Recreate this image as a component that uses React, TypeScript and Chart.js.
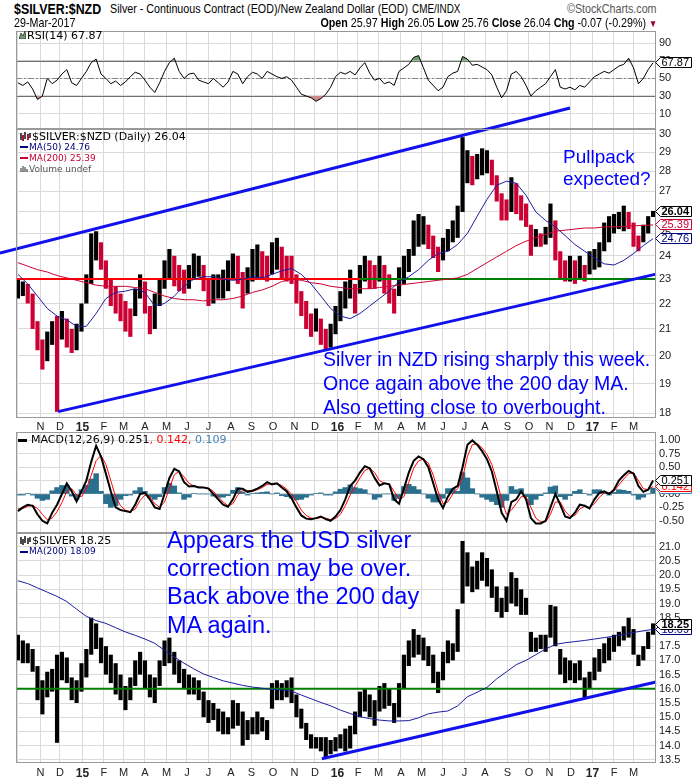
import React, { useEffect, useRef } from "react";
import { Chart, registerables } from "chart.js";

Chart.register(...registerables);

// ---------------- data ----------------
const startDate = "2014-09-29"; // Monday of first week shown
const tradingDays = 655; // weekdays on the axis
const daysPerWeek = 5;
const weeksPerMaStep = 2;

const quote = { date: "29-Mar-2017", open: 25.97, high: 26.05, low: 25.76, close: 26.04, chg: -0.07, chgPct: -0.29 };
const usdLastClose = 18.25;
const monthLetters = ["J", "F", "M", "A", "M", "J", "J", "A", "S", "O", "N", "D"];

// weekly high / low of $SILVER:$NZD
const nzdLow = [
  22.2, 22.3, 22.0, 21.0, 20.2, 19.5, 19.8, 20.4, 18.05, 20.6,
  20.3, 20.1, 20.2, 20.9, 22.0, 22.8, 23.8, 23.4, 22.6, 21.9,
  21.6, 21.3, 20.9, 20.7, 21.5, 22.2, 21.6, 20.8, 21.0, 21.9,
  22.6, 23.0, 22.7, 22.5, 22.4, 22.6, 23.0, 23.1, 22.5, 21.9,
  22.0, 22.2, 22.2, 22.5, 23.0, 22.8, 21.8, 22.4, 22.9, 23.0,
  23.0, 22.9, 23.2, 23.4, 23.0, 22.9, 22.8, 22.0, 21.5, 21.0,
  20.7, 20.9, 20.4, 20.2, 20.3, 20.8, 21.3, 21.8, 22.2, 21.6,
  22.4, 22.9, 22.6, 22.6, 22.9, 22.4, 22.0, 21.6, 22.3, 22.8,
  23.3, 24.0, 24.4, 24.5, 24.3, 23.9, 23.3, 23.8, 24.2, 24.6,
  24.8, 26.0, 27.4, 27.3, 27.6, 27.8, 27.9, 27.3, 26.5, 25.6,
  25.6, 26.0, 25.9, 25.6, 25.3, 24.0, 24.4, 24.4, 24.5, 24.8,
  23.8, 23.0, 22.9, 22.9, 22.8, 23.0, 22.9, 23.2, 23.4, 23.5,
  24.2, 24.6, 25.0, 25.2, 25.1, 25.2, 24.4, 24.2, 24.6, 25.0,
  25.76,
];
const nzdHigh = [
  23.0, 22.9, 22.8, 22.4, 21.3, 20.6, 20.9, 21.3, 21.5, 21.7,
  21.4, 21.0, 21.2, 22.0, 23.2, 25.0, 25.1, 24.6, 23.8, 23.0,
  22.7, 22.4, 22.1, 21.8, 22.6, 23.2, 22.9, 21.9, 22.4, 23.0,
  23.8, 24.3, 24.0, 23.6, 23.4, 23.6, 24.1, 24.0, 23.6, 23.0,
  23.2, 23.2, 23.4, 23.8, 24.1, 24.0, 23.3, 23.5, 24.3, 24.5,
  24.2, 24.0, 24.6, 24.8, 24.4, 24.0, 24.0, 23.2, 22.5, 22.1,
  21.6, 21.8, 21.4, 21.0, 21.2, 21.9, 22.5, 22.9, 23.4, 22.8,
  23.6, 24.0, 23.8, 23.6, 24.0, 23.6, 23.2, 22.6, 23.5, 24.0,
  24.3, 25.6, 25.9, 25.8, 25.4, 24.9, 24.4, 24.8, 25.2, 25.6,
  26.3, 29.8, 29.1, 28.8, 28.9, 29.2, 29.1, 28.6, 27.8, 26.9,
  26.6, 27.7, 27.4, 26.8, 26.4, 25.4, 25.2, 25.0, 25.3, 26.4,
  25.6, 24.2, 23.8, 24.0, 23.8, 24.0, 23.6, 24.2, 24.3, 24.6,
  25.5, 25.8, 25.9, 26.0, 26.3, 26.0, 25.5, 24.9, 25.4, 25.8,
  26.05,
];
// moving averages, one value every two weeks
const nzdMa50 = [
  23.2, 22.8, 22.3, 21.8, 21.5, 21.35, 21.1, 21.1, 21.6, 22.2,
  22.45, 22.5, 22.6, 22.45, 21.9, 22.0, 22.3, 22.7, 23.0, 23.1,
  23.1, 23.0, 22.95, 23.0, 23.1, 23.05, 23.2, 23.35, 23.45, 23.2,
  22.8, 22.3, 21.8, 21.5, 21.4, 21.6, 21.9, 22.2, 22.5, 22.9,
  23.1, 23.4, 23.8, 24.1, 24.2, 24.5, 25.0, 25.8, 26.6, 27.3,
  27.5, 27.4, 26.8, 26.0, 25.6, 25.3, 24.9, 24.5, 24.2, 23.9,
  23.65, 23.6, 23.8, 24.1, 24.45, 24.76,
];
const nzdMa200 = [
  23.7, 23.55, 23.4, 23.3, 23.15, 23.05, 22.95, 22.85, 22.75, 22.7,
  22.7, 22.7, 22.65, 22.6, 22.45, 22.3, 22.2, 22.15, 22.15, 22.1,
  22.15, 22.15, 22.2, 22.3, 22.45, 22.55, 22.7, 22.9, 23.0, 22.95,
  22.85, 22.8, 22.7, 22.65, 22.6, 22.6, 22.6, 22.65, 22.7, 22.75,
  22.8, 22.85, 22.9, 22.95, 23.0, 23.05, 23.2, 23.45, 23.7, 23.95,
  24.2, 24.45, 24.65, 24.8, 24.95, 25.1, 25.15, 25.2, 25.25, 25.25,
  25.3, 25.3, 25.32, 25.35, 25.37, 25.39,
];
const rsi14 = [
  45, 42, 46, 38, 26, 30, 50, 44, 48, 55,
  60, 45, 42, 50, 58, 68, 72, 55, 50, 44,
  47, 42, 46, 52, 57, 55, 48, 40, 34, 45,
  58, 68, 73, 58, 50, 55, 56, 48, 46, 44,
  50, 45, 40, 46, 58, 55, 44, 52, 57, 55,
  50, 58, 55, 52, 50, 52, 48, 40, 32, 30,
  28, 24, 27, 32, 40, 52, 57, 55, 58, 54,
  62, 68, 56, 48, 50, 44, 46, 42, 58, 62,
  66, 74, 76, 62, 48, 42, 36, 40, 52, 56,
  58, 75, 72, 65, 66, 63, 60, 54, 40, 28,
  36, 55, 58, 52, 42, 30, 36, 40, 44, 52,
  60, 40, 38, 40, 37, 42, 40, 46, 52, 55,
  58, 56, 60, 64, 66, 73, 62, 44, 50, 60,
  67.87,
];
const macdLine = [
  -0.32, -0.25, -0.2, -0.22, -0.38, -0.5, -0.55, -0.35, -0.2, 0.0,
  0.2, 0.05, -0.14, 0.05, 0.25, 0.6, 0.9, 0.7, 0.38, 0.05,
  -0.25, -0.3, -0.32, -0.34, -0.2, 0.0, 0.02, -0.1, -0.25, -0.28,
  0.0, 0.3, 0.47, 0.42, 0.22, 0.14, 0.15, 0.12, 0.12, 0.1,
  0.0, -0.1, -0.2, -0.24, -0.1, 0.1, 0.1, 0.04, 0.06, 0.1,
  0.15, 0.22, 0.18, 0.2, 0.12, 0.05, -0.08, -0.25, -0.4, -0.46,
  -0.47, -0.45, -0.42, -0.47, -0.5, -0.42, -0.3, -0.1, 0.15, 0.25,
  0.4, 0.52, 0.48, 0.3, 0.16, 0.2, 0.18, -0.1, -0.18, 0.1,
  0.4, 0.62, 0.7, 0.65, 0.5, 0.2, -0.1, -0.26, -0.05, 0.1,
  0.15, 0.5, 0.92, 1.0, 0.92, 0.8, 0.65, 0.42, 0.05, -0.35,
  -0.5, -0.15, -0.1, 0.05, -0.1, -0.45, -0.55, -0.55, -0.5, -0.25,
  0.0, -0.2, -0.42, -0.45, -0.35, -0.2, -0.22, -0.27, -0.1, 0.02,
  0.05, 0.0, 0.08, 0.25, 0.35, 0.43, 0.38, 0.15, 0.04, 0.08,
  0.251,
];
const macdSignal = [
  -0.28, -0.27, -0.23, -0.21, -0.27, -0.38, -0.48, -0.45, -0.33, -0.16,
  0.05, 0.1, -0.02, -0.05, 0.1, 0.35, 0.62, 0.72, 0.55, 0.25,
  -0.05, -0.22, -0.3, -0.33, -0.28, -0.12, -0.02, -0.05, -0.18, -0.25,
  -0.15, 0.1, 0.36, 0.42, 0.32, 0.2, 0.15, 0.13, 0.12, 0.11,
  0.05, -0.05, -0.15, -0.22, -0.18, -0.02, 0.07, 0.06, 0.05, 0.08,
  0.12, 0.18, 0.19, 0.19, 0.16, 0.09, 0.0, -0.14, -0.3, -0.4,
  -0.45, -0.46, -0.44, -0.45, -0.48, -0.46, -0.38, -0.22, -0.02, 0.15,
  0.3, 0.44, 0.48, 0.4, 0.25, 0.2, 0.19, 0.05, -0.1, -0.05,
  0.22, 0.48, 0.62, 0.65, 0.58, 0.35, 0.05, -0.18, -0.15, 0.0,
  0.1, 0.3, 0.7, 0.92, 0.94, 0.86, 0.74, 0.55, 0.25, -0.1,
  -0.38, -0.3, -0.18, -0.05, -0.05, -0.25, -0.45, -0.52, -0.52, -0.38,
  -0.15, -0.15, -0.32, -0.42, -0.4, -0.28, -0.23, -0.25, -0.18, -0.06,
  0.02, 0.02, 0.05, 0.17, 0.28, 0.38, 0.4, 0.25, 0.1, 0.08,
  0.142,
];
const macdHist = [
  -0.02, -0.02, 0.01, -0.02, -0.08, -0.12, -0.1, 0.06, 0.12, 0.16,
  0.15, -0.04, -0.1, 0.08, 0.16, 0.28, 0.38, 0.05, -0.18, -0.25,
  -0.22, -0.1, -0.03, -0.02, 0.06, 0.12, 0.05, -0.06, -0.1, -0.05,
  0.12, 0.2, 0.15, 0.02, -0.1, -0.06, 0.01, 0.0, 0.0, 0.0,
  -0.04, -0.06, -0.06, -0.03, 0.07, 0.12, 0.04, -0.02, 0.01, 0.02,
  0.03, 0.04, 0.0, 0.02, -0.03, -0.05, -0.08, -0.11, -0.1, -0.06,
  -0.02, 0.01, 0.02, -0.02, -0.02, 0.04, 0.09, 0.12, 0.17, 0.12,
  0.1, 0.08, 0.0, -0.1, -0.06, 0.0, 0.0, -0.12, -0.08, 0.14,
  0.18, 0.14, 0.08, 0.0, -0.08, -0.15, -0.15, -0.08, 0.1, 0.1,
  0.05, 0.4, 0.3, 0.1, 0.0, -0.06, -0.1, -0.14, -0.2, -0.25,
  -0.12, 0.14, 0.08, 0.1, -0.05, -0.2, -0.1, -0.03, 0.02, 0.13,
  0.15, -0.05, -0.1, -0.03, 0.05, 0.08, 0.01, -0.02, 0.08, 0.08,
  0.03, -0.02, 0.03, 0.08, 0.07, 0.05, -0.02, -0.1, -0.06, 0.0,
  0.109,
];
// weekly high / low of $SILVER (USD)
const usdLow = [
  17.0, 16.9, 16.9, 16.6, 15.6, 15.1, 15.7, 15.9, 14.1, 16.3,
  16.2, 15.6, 15.5, 15.9, 16.4, 17.2, 17.4, 16.9, 16.5, 16.2,
  15.8, 15.6, 15.25, 15.6, 16.1, 16.5, 16.0, 15.7, 15.5, 16.1,
  16.8, 16.9, 16.5, 16.2, 16.0, 15.8, 15.8, 15.6, 15.0, 14.8,
  14.9, 14.5, 14.4, 14.4, 14.6, 14.7, 14.0, 14.2, 14.4, 14.4,
  14.5, 14.2, 15.3, 15.6, 15.6, 15.7, 15.5, 15.0, 14.6, 14.2,
  13.9, 13.9, 13.8, 13.6, 13.7, 13.8, 13.9, 13.8, 13.9, 14.4,
  15.0, 15.2, 15.0, 14.7, 15.2, 15.3, 15.4, 14.8, 15.0, 16.0,
  16.8, 17.1, 17.2, 17.0, 16.8, 16.2, 15.85, 16.3, 16.9, 17.0,
  17.3, 19.0, 19.6, 19.4, 19.5, 19.8, 19.6, 19.2, 18.7, 18.5,
  18.7, 19.0, 18.9, 18.6, 18.6, 17.3, 17.3, 17.4, 17.3, 17.8,
  17.5, 16.5, 16.2, 16.3, 16.2, 16.3, 15.7, 16.0, 16.3, 16.6,
  16.9, 17.0, 17.3, 17.5, 17.7, 17.8, 17.2, 16.8, 17.0, 17.4,
  17.9,
];
const usdHigh = [
  17.9, 17.7, 17.6, 17.4, 16.8, 16.3, 16.6, 16.7, 17.2, 17.3,
  17.1, 16.4, 16.3, 16.9, 17.4, 18.5, 18.3, 17.8, 17.5, 17.2,
  16.9, 16.5, 16.1, 16.4, 17.0, 17.3, 17.0, 16.5, 16.4, 17.0,
  17.7, 17.8, 17.3, 17.0, 16.7, 16.5, 16.4, 16.3, 15.9, 15.6,
  15.5, 15.3, 15.2, 15.0, 15.6, 15.5, 15.2, 14.9, 15.0, 15.2,
  15.0, 14.9, 16.2, 16.3, 16.2, 16.3, 16.4, 15.8, 15.3, 14.8,
  14.4, 14.3, 14.3, 14.3, 14.2, 14.3, 14.4, 14.6, 14.7, 15.2,
  15.9, 16.0, 15.8, 15.6, 16.1, 16.2, 16.0, 15.5, 16.2, 17.2,
  17.7, 18.1, 17.9, 17.8, 17.5, 17.2, 16.6, 17.3, 17.7, 17.6,
  18.8, 21.2, 20.8, 20.3, 20.5, 20.8, 20.6, 20.2, 19.6, 19.2,
  19.6, 20.1, 19.9, 19.5, 19.2, 18.0, 17.8, 17.9, 17.9, 18.95,
  18.9, 17.4, 17.1, 17.0, 16.9, 17.0, 16.4, 16.6, 17.1, 17.4,
  17.6, 17.8, 17.9, 18.0, 18.2, 18.5, 18.1, 17.2, 17.5, 18.0,
  18.3,
];
const usdMa200 = [
  19.8, 19.7, 19.55, 19.4, 19.25, 19.07, 18.8, 18.55, 18.4, 18.3,
  18.15, 18.0, 17.88, 17.75, 17.6, 17.35, 17.12, 16.9, 16.7, 16.52,
  16.4, 16.28, 16.2, 16.12, 16.06, 16.02, 15.98, 15.96, 15.92, 15.78,
  15.65, 15.52, 15.4, 15.25, 15.13, 15.02, 14.95, 14.9, 14.87, 14.87,
  14.88, 14.98, 15.12, 15.18, 15.22, 15.4, 15.72, 15.88, 16.05, 16.35,
  16.6, 16.85, 17.0, 17.2, 17.4, 17.56, 17.62, 17.66, 17.7, 17.75,
  17.8, 17.85, 17.92, 17.98, 18.04, 18.09,
];
// drawn annotations: [trading-day index, price]
const nzdChannelUpper = [[-16.4, 24.12], [567, 31.43]];
const nzdChannelLower = [[43, 18.06], [655, 23.21]];
const nzdSupportRed = [[0, 23.0], [352, 23.0]];
const nzdSupportGreen = [[0, 23.0], [655, 23.0]];
const usdSupport = [[0, 16.0], [655, 16.0]];
const usdTrend = [[313, 13.54], [655, 16.24]];

const nzdTicks = [18, 19, 20, 21, 22, 23, 24, 25, 26, 27, 28, 29, 30];
const rsiTicks = [10, 30, 50, 70, 90];
const macdTicks = [-0.5, -0.25, 0, 0.25, 0.5, 0.75, 1.0];
const usdTicks = [13.5, 14, 14.5, 15, 15.5, 16, 16.5, 17, 17.5, 18, 18.5, 19, 19.5, 20, 20.5, 21];

// ---------------- helpers ----------------
const FONT_SANS = '"Liberation Sans", Arial, sans-serif';
const FONT_DJ = '"DejaVu Sans", Verdana, sans-serif';
const CRIMSON = "#cc0033";
const NAVY_LINE = "#1c1c9e";
const NAVY_TEXT = "#000080";
const TREND_BLUE = "#1111ee";
const GREEN = "#008000";
const HIST = "#2b6f8f";
const NOTE_BLUE = "#0000ff";
const GRID = "#dadada";

const startMs = Date.parse(startDate + "T00:00:00Z");
const dayDate = (i: number) => new Date(startMs + (Math.floor(i / daysPerWeek) * 7 + (i % daysPerWeek)) * 86400000);
const monthTicks: { day: number; label: string; year: boolean }[] = [];
{
  let prev = dayDate(0).getUTCMonth();
  for (let i = 1; i < tradingDays; i++) {
    const d = dayDate(i);
    const m = d.getUTCMonth();
    if (m !== prev) {
      monthTicks.push({ day: i, label: m === 0 ? String(d.getUTCFullYear()).slice(2) : monthLetters[m], year: m === 0 });
      prev = m;
    }
  }
}
const tickInfo = (v: number) => monthTicks.find((t) => t.day === v);
const weekX = (w: number) => w * daysPerWeek + 2;
const maX = (k: number) => k * weeksPerMaStep * daysPerWeek + 2;
const pts = (arr: number[][]) => arr.map(([x, y]) => ({ x, y }));
const last = (a: number[]) => a[a.length - 1];

function xScale(showLabels: boolean, pad: number): any {
  return {
    type: "linear",
    min: 0,
    max: tradingDays,
    offset: false,
    afterBuildTicks: (s: any) => {
      s.ticks = monthTicks.map((t) => ({ value: t.day }));
    },
    afterFit: (s: any) => {
      s.height = showLabels ? 14 : 0;
      s.paddingLeft = 0;
      s.paddingRight = 0;
      s.paddingTop = 0;
      s.paddingBottom = 0;
    },
    grid: { color: GRID, lineWidth: 1, drawTicks: false, offset: false },
    border: { display: false },
    ticks: {
      display: showLabels,
      autoSkip: false,
      maxRotation: 0,
      padding: pad,
      color: "#222",
      font: (ctx: any) => {
        const t = ctx.tick ? tickInfo(ctx.tick.value) : undefined;
        return { family: FONT_SANS, size: t && t.year ? 12 : 11, weight: t && t.year ? "bold" : "normal" };
      },
      callback: (v: any) => {
        const t = tickInfo(Number(v));
        if (!t || t.day < 10) return "";
        return t.label;
      },
    },
  };
}

function yScale(type: string, min: number, max: number, ticks: number[], fmt: (v: number) => string): any {
  return {
    type,
    position: "right",
    min,
    max,
    afterBuildTicks: (s: any) => {
      s.ticks = ticks.map((v) => ({ value: v }));
    },
    afterFit: (s: any) => {
      s.width = 44;
      s.paddingTop = 0;
      s.paddingBottom = 0;
    },
    grid: { color: GRID, lineWidth: 1, drawTicks: false },
    border: { display: false },
    ticks: {
      autoSkip: false,
      padding: 3,
      color: "#222",
      font: { family: FONT_SANS, size: 11 },
      callback: (v: any) => fmt(Number(v)),
    },
  };
}

function drawTag(ctx: CanvasRenderingContext2D, x: number, y: number, text: string, color: string, bold: boolean) {
  ctx.save();
  ctx.font = `${bold ? "bold " : ""}11px ${FONT_SANS}`;
  const tw = ctx.measureText(text).width;
  const arrow = 5;
  const top = Math.round(y - 5.5) + 0.5;
  const bot = top + 10;
  const mid = (top + bot) / 2;
  const l = Math.round(x) + 0.5;
  const r = Math.round(l + arrow + tw + 3) + 0.5;
  ctx.beginPath();
  ctx.moveTo(l, mid);
  ctx.lineTo(l + arrow, top);
  ctx.lineTo(r, top);
  ctx.lineTo(r, bot);
  ctx.lineTo(l + arrow, bot);
  ctx.closePath();
  ctx.fillStyle = "#fff";
  ctx.fill();
  ctx.strokeStyle = color;
  ctx.lineWidth = 1;
  ctx.stroke();
  ctx.fillStyle = color;
  ctx.textBaseline = "middle";
  ctx.textAlign = "left";
  ctx.fillText(text, l + arrow + 1, mid + 0.5);
  ctx.restore();
}

function panelPlugin(before: ((c: any) => void) | null, tags: { v: number; text: string; color: string; bold: boolean }[]): any {
  return {
    id: "panelDeco",
    beforeDatasetsDraw(chart: any) {
      if (before) before(chart);
    },
    afterDraw(chart: any) {
      const { ctx, chartArea: a } = chart;
      ctx.save();
      ctx.strokeStyle = "#9a9a9a";
      ctx.lineWidth = 1;
      ctx.strokeRect(Math.round(a.left) + 0.5, Math.round(a.top) + 0.5, Math.round(a.width) - 1, Math.round(a.height) - 1);
      ctx.restore();
      const ys = chart.scales.y;
      tags.forEach((t) => drawTag(ctx, a.right - 1, ys.getPixelForValue(t.v), t.text, t.color, t.bold));
    },
  };
}

const baseOptions = (padding: any) => ({
  responsive: false,
  animation: false,
  devicePixelRatio: 1,
  events: [],
  layout: { padding },
  plugins: { legend: { display: false }, tooltip: { enabled: false } },
});

const lineDs = (data: any[], color: string, width: number, order: number, extra: any = {}) => ({
  type: "line",
  data,
  borderColor: color,
  borderWidth: width,
  pointRadius: 0,
  tension: 0,
  fill: false,
  order,
  ...extra,
});

// ---------------- configs ----------------
function rsiConfig(): any {
  const data = rsi14.map((v, w) => ({ x: weekX(w), y: v }));
  return {
    type: "line",
    data: {
      datasets: [
        lineDs(data, "#000", 1, 0, { fill: { target: { value: 70 }, above: "#6f9e6f", below: "rgba(0,0,0,0)" } }),
        lineDs(data, "rgba(0,0,0,0)", 0, 1, { fill: { target: { value: 30 }, above: "rgba(0,0,0,0)", below: "#c98a8a" } }),
      ],
    },
    options: {
      ...baseOptions({ left: 16, top: 3, right: 0, bottom: 2 }),
      scales: {
        x: xScale(false, 0),
        y: yScale("linear", -7.6, 104, rsiTicks, (v) => String(v)),
      },
    },
    plugins: [
      panelPlugin(
        (chart) => {
          const { ctx, chartArea: a, scales } = chart;
          ctx.save();
          ctx.lineWidth = 1;
          ctx.strokeStyle = "#707070";
          [70, 30].forEach((lv) => {
            const y = Math.round(scales.y.getPixelForValue(lv)) + 0.5;
            ctx.beginPath();
            ctx.moveTo(a.left, y);
            ctx.lineTo(a.right, y);
            ctx.stroke();
          });
          ctx.strokeStyle = "#888";
          ctx.setLineDash([6, 2, 2, 2]);
          const y5 = Math.round(scales.y.getPixelForValue(50)) + 0.5;
          ctx.beginPath();
          ctx.moveTo(a.left, y5);
          ctx.lineTo(a.right, y5);
          ctx.stroke();
          ctx.restore();
        },
        [{ v: last(rsi14), text: last(rsi14).toFixed(2), color: "#000", bold: false }]
      ),
    ],
  };
}

function mainConfig(): any {
  const bars = nzdHigh.map((h, w) => ({ x: weekX(w), y: [nzdLow[w], h] }));
  const colors = nzdHigh.map((h, w) => {
    if (w === 0) return "#000";
    const mid = (h + nzdLow[w]) / 2;
    const prev = (nzdHigh[w - 1] + nzdLow[w - 1]) / 2;
    return mid >= prev ? "#000" : CRIMSON;
  });
  return {
    type: "bar",
    data: {
      datasets: [
        { type: "bar", data: bars, backgroundColor: colors, borderWidth: 0, barPercentage: 0.85, categoryPercentage: 1, order: 6 },
        lineDs(pts(nzdSupportGreen), GREEN, 2, 5),
        lineDs(pts(nzdSupportRed), "#ff0000", 2, 4),
        lineDs(nzdMa200.map((v, k) => ({ x: maX(k), y: v })), CRIMSON, 1, 3),
        lineDs(nzdMa50.map((v, k) => ({ x: maX(k), y: v })), NAVY_LINE, 1, 2),
        lineDs(pts(nzdChannelUpper), TREND_BLUE, 3, 0, { clip: false }),
        lineDs(pts(nzdChannelLower), TREND_BLUE, 3, 0, { clip: false }),
      ],
    },
    options: {
      ...baseOptions({ left: 16, top: 29, right: 0, bottom: 0 }),
      scales: {
        x: xScale(true, 2),
        y: yScale("logarithmic", 17.85, 30.25, nzdTicks, (v) => String(v)),
      },
    },
    plugins: [
      panelPlugin(null, [
        { v: last(nzdMa50), text: last(nzdMa50).toFixed(2), color: NAVY_TEXT, bold: false },
        { v: last(nzdMa200), text: last(nzdMa200).toFixed(2), color: CRIMSON, bold: false },
        { v: quote.close, text: quote.close.toFixed(2), color: "#000", bold: true },
      ]),
    ],
  };
}

function macdConfig(): any {
  return {
    type: "bar",
    data: {
      datasets: [
        { type: "bar", data: macdHist.map((v, w) => ({ x: weekX(w), y: v })), backgroundColor: HIST, borderWidth: 0, barPercentage: 1, categoryPercentage: 1, order: 3 },
        lineDs(macdSignal.map((v, w) => ({ x: weekX(w), y: v })), "#ff0000", 1, 1),
        lineDs(macdLine.map((v, w) => ({ x: weekX(w), y: v })), "#000", 2, 0),
      ],
    },
    options: {
      ...baseOptions({ left: 16, top: 2, right: 0, bottom: 2 }),
      scales: {
        x: xScale(false, 0),
        y: yScale("linear", -0.728, 1.157, macdTicks, (v) => v.toFixed(2)),
      },
    },
    plugins: [
      panelPlugin(null, [
        { v: last(macdHist), text: last(macdHist).toFixed(3), color: "#4682b4", bold: false },
        { v: last(macdSignal), text: last(macdSignal).toFixed(3), color: "#ff0000", bold: false },
        { v: last(macdLine), text: last(macdLine).toFixed(3), color: "#000", bold: false },
      ]),
    ],
  };
}

function usdConfig(): any {
  return {
    type: "bar",
    data: {
      datasets: [
        { type: "bar", data: usdHigh.map((h, w) => ({ x: weekX(w), y: [usdLow[w], h] })), backgroundColor: "#000", borderWidth: 0, barPercentage: 0.85, categoryPercentage: 1, order: 5 },
        lineDs(pts(usdSupport), GREEN, 2, 3),
        lineDs(usdMa200.map((v, k) => ({ x: maX(k), y: v })), NAVY_LINE, 1, 2),
        lineDs(pts(usdTrend), TREND_BLUE, 3, 0, { clip: false }),
      ],
    },
    options: {
      ...baseOptions({ left: 16, top: 2, right: 0, bottom: 0 }),
      scales: {
        x: xScale(true, 3),
        y: yScale("linear", 13.39, 21.48, usdTicks, (v) => v.toFixed(1)),
      },
    },
    plugins: [
      panelPlugin(null, [
        { v: last(usdMa200), text: last(usdMa200).toFixed(2), color: NAVY_TEXT, bold: false },
        { v: usdLastClose, text: usdLastClose.toFixed(2), color: "#000", bold: true },
      ]),
    ],
  };
}

// ---------------- components ----------------
const abs = (left: number, top: number, extra: any = {}): React.CSSProperties => ({
  position: "absolute",
  left,
  top,
  whiteSpace: "nowrap",
  ...extra,
});

function BarIcon({ red }: { red: boolean }) {
  return (
    <svg width="11" height="9" style={{ marginRight: 1, verticalAlign: "-1px" }}>
      <path d="M1 1 V8 M3 3 V9 M5 0 V7 M8 2 V8 M10 1 V6" stroke="#000" strokeWidth="1.4" fill="none" />
      {red ? <path d="M3 3 V9 M8 2 V8" stroke={CRIMSON} strokeWidth="1.4" fill="none" /> : null}
    </svg>
  );
}

function Dash({ color }: { color: string }) {
  return <span style={{ display: "inline-block", width: 8, height: 2, background: color, marginRight: 1, verticalAlign: "middle" }} />;
}

export default function App() {
  const rsiRef = useRef<HTMLCanvasElement>(null);
  const mainRef = useRef<HTMLCanvasElement>(null);
  const macdRef = useRef<HTMLCanvasElement>(null);
  const usdRef = useRef<HTMLCanvasElement>(null);

  useEffect(() => {
    const charts = [
      new Chart(rsiRef.current as HTMLCanvasElement, rsiConfig()),
      new Chart(macdRef.current as HTMLCanvasElement, macdConfig()),
      new Chart(usdRef.current as HTMLCanvasElement, usdConfig()),
      new Chart(mainRef.current as HTMLCanvasElement, mainConfig()),
    ];
    return () => charts.forEach((c) => c.destroy());
  }, []);

  const narrow = (size: number, extra: any = {}) => ({
    fontFamily: FONT_SANS,
    fontSize: size,
    transform: "scaleX(0.825)",
    transformOrigin: "left center",
    lineHeight: "16px",
    color: "#000",
    ...extra,
  });

  const canvasStyle = (top: number, h: number): React.CSSProperties => ({ position: "absolute", left: 0, top, width: 700, height: h });

  return (
    <div style={{ position: "absolute", left: 0, top: 0, width: 700, height: 780, background: "#fff", overflow: "hidden" }}>
      <canvas ref={rsiRef} width={700} height={103} style={canvasStyle(28, 103)} />
      <canvas ref={macdRef} width={700} height={105} style={canvasStyle(430, 105)} />
      <canvas ref={usdRef} width={700} height={246} style={canvasStyle(531, 246)} />
      <canvas ref={mainRef} width={700} height={332} style={canvasStyle(100, 332)} />

      {/* header */}
      <div style={abs(14, 1, narrow(15, { fontWeight: "bold" }))}>$SILVER:$NZD</div>
      <div style={abs(110, 1, narrow(13))}>Silver - Continuous Contract (EOD)/New Zealand Dollar (EOD)</div>
      <div style={abs(412, 1, narrow(12))}>CME/INDX</div>
      <div style={abs(14, 15, narrow(13))}>{quote.date}</div>
      <div style={{ position: "absolute", right: 43, top: 1, whiteSpace: "nowrap", ...narrow(13, { transformOrigin: "right center", color: "#555" }) }}>
        ©StockCharts.com
      </div>
      <div style={{ position: "absolute", right: 43, top: 15, whiteSpace: "nowrap", ...narrow(13, { transformOrigin: "right center" }) }}>
        <b>Open</b> {quote.open.toFixed(2)} <b>High</b> {quote.high.toFixed(2)} <b>Low</b> {quote.low.toFixed(2)} <b>Close</b>{" "}
        {quote.close.toFixed(2)} <b>Chg</b> {quote.chg.toFixed(2)} ({quote.chgPct.toFixed(2)}%){" "}
        <span style={{ color: "#a0002a", fontSize: 10 }}>▼</span>
      </div>

      {/* RSI legend */}
      <div style={abs(19, 29, { fontFamily: FONT_DJ, fontSize: 11, lineHeight: "13px", color: "#000" })}>
        <svg width="7" height="8" style={{ marginRight: 1 }}>
          <path d="M0 8 L2 2 L4 5 L6 0 L7 8 Z" fill="#6f9e6f" stroke="#333" strokeWidth="0.8" />
        </svg>
        RSI(14) {last(rsi14).toFixed(2)}
      </div>

      {/* main legend */}
      <div style={abs(20, 129.5, { fontFamily: FONT_DJ, fontSize: 11, lineHeight: "13px", color: "#000" })}>
        <BarIcon red={true} />
        $SILVER:$NZD (Daily) {quote.close.toFixed(2)}
      </div>
      <div style={abs(20, 141.8, { fontFamily: FONT_DJ, fontSize: 9, lineHeight: "11px", color: NAVY_TEXT })}>
        <Dash color={NAVY_TEXT} />
        MA(50) {last(nzdMa50).toFixed(2)}
      </div>
      <div style={abs(20, 152.8, { fontFamily: FONT_DJ, fontSize: 9, lineHeight: "11px", color: CRIMSON })}>
        <Dash color={CRIMSON} />
        MA(200) {last(nzdMa200).toFixed(2)}
      </div>
      <div style={abs(20, 163.5, { fontFamily: FONT_DJ, fontSize: 9, lineHeight: "11px", color: "#555" })}>
        <svg width="8" height="7" style={{ marginRight: 1 }}>
          <path d="M1 7 V3 M3 7 V1 M5 7 V2 M7 7 V4" stroke="#666" strokeWidth="1.4" />
        </svg>
        Volume undef
      </div>

      {/* MACD legend */}
      <div style={abs(18, 433.2, { fontFamily: FONT_DJ, fontSize: 11, lineHeight: "13px", color: "#000" })}>
        <span style={{ display: "inline-block", width: 9, height: 3, background: "#000", marginRight: 4, verticalAlign: "middle" }} />
        MACD(12,26,9) {last(macdLine).toFixed(3)}
        <span style={{ color: "#ff0000" }}>, {last(macdSignal).toFixed(3)},</span>
        <span style={{ color: "#4682b4" }}> {last(macdHist).toFixed(3)}</span>
      </div>

      {/* USD legend */}
      <div style={abs(20, 533.5, { fontFamily: FONT_DJ, fontSize: 11, lineHeight: "13px", color: "#000" })}>
        <BarIcon red={false} />
        $SILVER {usdLastClose.toFixed(2)}
      </div>
      <div style={abs(20, 546.2, { fontFamily: FONT_DJ, fontSize: 9, lineHeight: "11px", color: NAVY_TEXT })}>
        <Dash color={NAVY_TEXT} />
        MA(200) {last(usdMa200).toFixed(2)}
      </div>

      {/* annotations */}
      <div style={abs(563, 146.4, { fontFamily: FONT_SANS, fontSize: 19, lineHeight: "22px", color: NOTE_BLUE })}>
        Pullpack
        <br />
        expected?
      </div>
      <div style={abs(323, 347, { fontFamily: FONT_SANS, fontSize: 19.5, lineHeight: "24px", color: NOTE_BLUE })}>
        Silver in NZD rising sharply this week.
        <br />
        Once again above the 200 day MA.
        <br />
        Also getting close to overbought.
      </div>
      <div style={abs(167, 525.7, { fontFamily: FONT_SANS, fontSize: 23.5, lineHeight: "28.3px", color: NOTE_BLUE })}>
        Appears the USD silver
        <br />
        correction may be over.
        <br />
        Back above the 200 day
        <br />
        MA again.
      </div>
    </div>
  );
}
